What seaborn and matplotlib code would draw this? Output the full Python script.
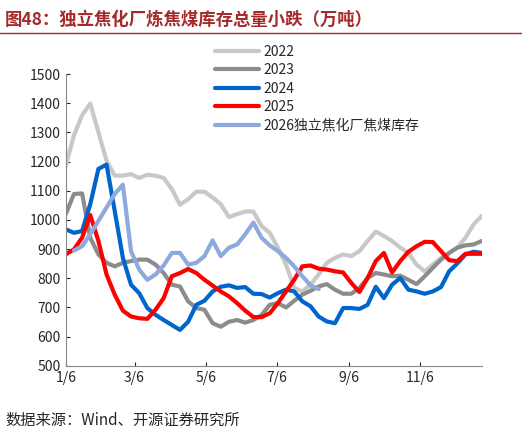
import numpy as np
import pandas as pd
import seaborn as sns
import matplotlib.pyplot as plt

sns.set_style("white")
plt.rcParams['font.family'] = ['Noto Sans CJK SC', 'DejaVu Sans']

# weekly values, day offset from 1/6
days = np.arange(52) * 7
tick_days = [0, 59, 120, 181, 243, 304]
tick_labels = ["1/6", "3/6", "5/6", "7/6", "9/6", "11/6"]

s2022 = [1186, 1290, 1359, 1399, 1301, 1203, 1152, 1152, 1157, 1144, 1155, 1152, 1144, 1106, 1052, 1071,
         1097, 1097, 1077, 1054, 1010, 1020, 1029, 1029, 979, 956, 905, 847, 767, 755, 778, 813,
         853, 870, 882, 876, 893, 928, 960, 945, 928, 905, 887, 847, 824, 847, 870, 887, 905, 939, 985, 1014]
s2023 = [1020, 1089, 1091, 939, 882, 853, 841, 853, 859, 864, 864, 847, 818, 778, 772, 721,
         698, 692, 646, 634, 651, 657, 648, 657, 674, 709, 715, 700, 723, 744, 757, 772,
         780, 761, 747, 747, 767, 801, 818, 813, 807, 809, 795, 780, 807, 836, 864, 887, 905, 913, 916, 928]
s2024 = [968, 956, 962, 1054, 1175, 1190, 1031, 870, 778, 749, 698, 675, 657, 640, 623, 651,
         709, 723, 755, 771, 776, 767, 770, 747, 746, 734, 749, 761, 755, 721, 704, 669,
         652, 646, 698, 698, 695, 709, 771, 732, 778, 801, 761, 755, 747, 755, 770, 824, 851, 882, 891, 887]
s2025 = [882, 899, 939, 1017, 928, 813, 744, 689, 669, 663, 661, 692, 732, 807, 818, 832,
         818, 795, 775, 755, 738, 715, 689, 667, 667, 680, 715, 755, 795, 841, 844, 833,
         830, 824, 820, 784, 753, 801, 859, 887, 820, 859, 891, 910, 925, 924, 893, 862, 859, 884, 884, 884]
s2026 = [np.nan, 895, 910, 951, 997, 1043, 1089, 1121, 893, 830, 795, 813, 844, 887, 887, 847,
         853, 876, 930, 876, 905, 916, 951, 991, 939, 913, 893, 870, 841, 807, 776, 763] + [np.nan] * 20

df = pd.DataFrame({"day": days, "2022": s2022, "2023": s2023, "2024": s2024,
                   "2025": s2025, "2026独立焦化厂焦煤库存": s2026})
long = df.melt(id_vars="day", var_name="year", value_name="v")

palette = {"2022": "#c8c8c8", "2023": "#8c8c8c", "2024": "#0066cc",
           "2025": "#ff0000", "2026独立焦化厂焦煤库存": "#8ea9db"}

fig = plt.figure(figsize=(5.22, 4.36), dpi=100)
ax = fig.add_axes([0.126, 0.161, 0.797, 0.669])
sns.lineplot(data=long, x="day", y="v", hue="year", palette=palette, linewidth=3, ax=ax)

ax.set_xlim(0, 357)
ax.set_ylim(500, 1500)
ax.set_yticks(range(500, 1501, 100))
ax.set_xticks(tick_days)
ax.set_xticklabels(tick_labels)
ax.tick_params(labelsize=10, length=3, direction="in", left=True, bottom=True)
ax.set_xlabel("")
ax.set_ylabel("")
for s in ["top", "right"]:
    ax.spines[s].set_visible(False)
for s in ["left", "bottom"]:
    ax.spines[s].set_color("#888888")

ax.legend(loc="upper left", bbox_to_anchor=(0.345, 1.12), frameon=False, fontsize=10,
          handlelength=3.2, labelspacing=0.32, handletextpad=0.3, borderaxespad=0)

fig.text(0.01, 0.955, "图48：独立焦化厂炼焦煤库存总量小跌（万吨）", fontsize=12.5,
         fontweight="bold", color="#a52a2a", va="center")
fig.add_artist(plt.Line2D([0.0, 1.0], [0.925, 0.925], color="#a52a2a", linewidth=1))
fig.text(0.01, 0.035, "数据来源：Wind、开源证券研究所", fontsize=11, va="center")

fig.savefig("out.png", dpi=100)
